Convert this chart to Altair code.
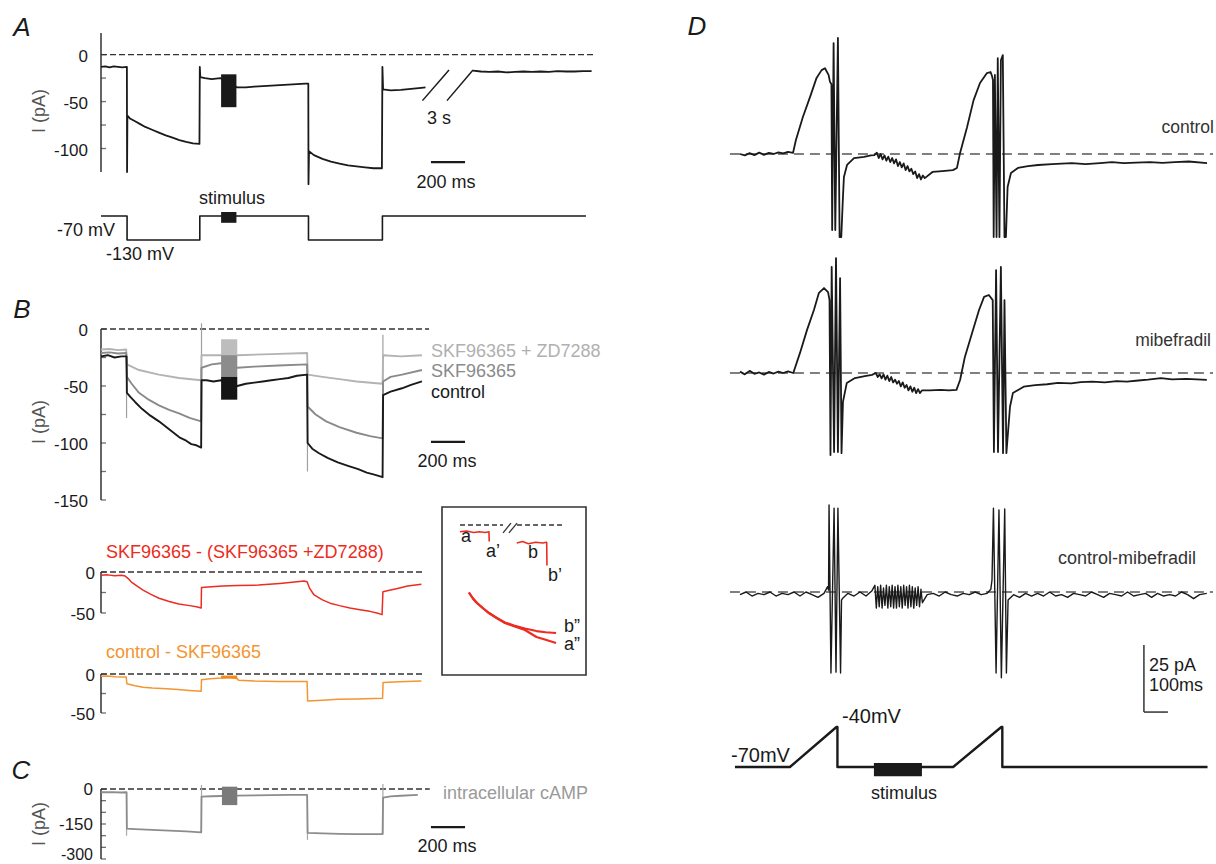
import altair as alt
import pandas as pd

FONT = "Liberation Sans"
INK = "#1a1a1a"
RED = "#ec2c22"
ORANGE = "#f39530"
LIGHT = "#b3b3b3"
MID = "#8a8a8a"

# ---------------- Panel A : current (ms, pA) ----------------
A1_T = [0, 25, 50, 75, 100, 125, 152, 153, 155, 170, 200, 230, 260, 300, 340, 380, 420, 460, 500, 540, 578,
        580, 583, 610, 650, 700, 800, 850, 900, 950, 1000, 1050, 1100, 1150, 1200, 1217,
        1218, 1221, 1250, 1300, 1350, 1400, 1450, 1500, 1550, 1600, 1649, 1652, 1656, 1700, 1760, 1820, 1880, 1905]
A1_I = [-13, -12.5, -13.5, -12.5, -13, -13.5, -13, -125, -65, -68, -71, -74, -77, -80, -83, -86, -88.5, -91, -93, -94.5, -95,
        -13, -24, -25, -26, -25, -35, -35, -34, -33.5, -33, -32.5, -32, -31.5, -31, -31,
        -138, -103, -107, -111, -114, -116, -118, -119, -120, -121, -121, -13, -37, -38, -37.5, -36.5, -35.5, -35]
A2_T = [2184, 2230, 2280, 2330, 2380, 2430, 2480, 2530, 2580, 2630, 2680, 2730, 2780, 2830, 2880]
A2_I = [-17, -18, -18.5, -18, -19, -18.5, -18, -18.5, -18, -18.5, -17.5, -18, -18, -17.5, -17.5]
A_BREAK1_T, A_BREAK1_I = [1887, 2043], [-49, -16.4]
A_BREAK2_T, A_BREAK2_I = [2031, 2184], [-49, -16.4]
A_STIM = (705, 795, -21, -56)
A_TICKS = [0, -25, -50, -75, -100]
A_LABELS = [0, -50, -100]
# protocol (ms, mV)
AP_T = [0, 153, 153, 580, 580, 1218, 1218, 1652, 1652, 2847]
AP_V = [-70, -70, -130, -130, -70, -70, -130, -130, -70, -70]
AP_STIM = (705, 795, -60, -87)

# ---------------- Panel B ----------------
BC_T = [0, 40, 80, 120, 150, 152, 175, 200, 240, 290, 340, 400, 460, 500, 530, 560, 588, 590, 620, 660, 705,
        800, 850, 900, 950, 1000, 1050, 1100, 1150, 1210, 1213, 1240, 1280, 1330, 1390, 1450, 1510, 1560, 1610, 1653,
        1656, 1700, 1767, 1820, 1884]
BC_I = [-24, -23, -25, -24, -24, -56, -60, -64, -70, -76, -81, -88, -95, -98, -101, -102, -104, -45, -45, -46, -45,
        -50, -48, -47, -46, -45, -44, -43, -41, -40, -100, -105, -109, -113, -117, -120, -123, -126, -128, -130,
        -58, -55, -52, -49, -46]
BS_T = [0, 50, 100, 148, 152, 180, 223, 280, 340, 400, 458, 520, 588, 590, 650, 705, 800, 900, 1041, 1210,
        1213, 1260, 1322, 1400, 1500, 1580, 1653, 1656, 1700, 1767, 1884]
BS_I = [-21, -20.5, -21.5, -21, -42, -48, -56, -62, -67, -71, -74, -78, -81, -34, -31, -30, -34, -33, -32, -31,
        -68, -75, -81, -86, -91, -94, -96, -46, -42, -40, -36]
BZ_T = [0, 50, 100, 148, 152, 223, 340, 458, 588, 590, 705, 800, 1000, 1210, 1213, 1300, 1400, 1500, 1653, 1656, 1760, 1884]
BZ_I = [-18, -17.5, -18.5, -18, -31, -36, -40, -43, -45, -23, -23, -23, -22, -21, -40, -42, -44, -46, -48, -23, -24, -23]
B_SPIKE_T = [150, 590, 1212, 1655]
B_SPIKE_A = [-24, -45, -40, -58]
B_SPIKE_B = [-78, 5, -125, -5]
B_STIM_T = (705, 800)
B_STIM_LEVELS = [(-9, -23, "#bdbdbd"), (-23, -42, "#8c8c8c"), (-42, -62, "#151515")]
B_TICKS = [0, -25, -50, -75, -100, -125, -150]
B_LABELS = [0, -50, -100, -150]

# difference traces
R_T = [0, 40, 80, 120, 142, 160, 177, 210, 247, 290, 341, 400, 457, 520, 560, 588,
       590, 650, 714, 800, 924, 1050, 1150, 1192, 1210, 1225, 1251, 1300, 1345, 1400, 1461, 1520, 1578, 1620, 1650,
       1655, 1700, 1741, 1800, 1881]
R_I = [-4, -3.5, -4.5, -4, -5, -8, -12, -17, -22, -27, -32, -36, -39, -41, -42.5, -44,
       -19, -18, -17, -16.5, -16, -14, -12, -11, -12, -20, -28, -34, -38, -41, -44, -46, -48, -50, -52,
       -24, -22, -20, -17, -15]
O_T = [0, 40, 80, 130, 148, 152, 200, 247, 300, 387, 450, 520, 588, 590, 640, 705, 750, 800, 807, 900, 1040, 1210,
       1213, 1300, 1391, 1500, 1653, 1656, 1750, 1881]
O_I = [-3, -2.5, -3.5, -4, -4, -12.5, -15, -17, -18, -19, -20, -21, -22, -7.5, -6, -5, -4, -6, -8, -9, -9.6, -9.6,
       -34.6, -33.5, -32.5, -32, -31, -11, -10, -9]
O_STIM = (705, 800, -2, -6)
D_TICKS = [0, -25, -50]
D_LABELS = [0, -50]

# inset (ms, pA, arbitrary offsets)
IA_T = [125, 170, 220, 260, 300, 326, 328]
IA_I = [-4.5, -4, -5, -4.5, -5, -4.5, -11]
IB_T = [519, 560, 600, 650, 700, 727, 729]
IB_I = [-12, -11, -12.5, -11.5, -12, -11.5, -27]
IA2_T = [187, 215, 243, 285, 326, 380, 437, 500, 576, 656, 720, 792]
IA2_I = [-45, -49, -52, -55.5, -58.7, -62, -65.3, -67.5, -70, -74.7, -76.5, -78.7]
IB2_T = [187, 215, 243, 285, 326, 380, 437, 500, 576, 656, 720, 792]
IB2_I = [-45, -49, -52, -55.5, -58.7, -62, -65, -67, -69, -70.7, -71.5, -72]

# ---------------- Panel C ----------------
C_T = [0, 60, 120, 148, 150, 152, 200, 300, 400, 500, 588, 590, 650, 705, 800, 900, 1000, 1100, 1210,
       1213, 1300, 1400, 1500, 1653, 1656, 1700, 1760, 1860]
C_I = [-14, -13, -15, -14, -14, -170, -172, -175, -178, -182, -186, -33, -31, -30, -28, -27, -26, -25, -25,
       -188, -190, -192, -193, -193, -37, -32, -29, -25]
C_SPIKE_T = [150, 590, 1212, 1655]
C_SPIKE_A = [-14, -186, -25, -193]
C_SPIKE_B = [-200, 17, -218, 21]
C_STIM = (710, 800, 10, -69)
C_TICKS = [0, -50, -100, -150, -200, -250, -300]
C_LABELS = [0, -150]
C_LABELS_LOW = [-300]

# ---------------- Panel D (ms, pA) ----------------
DC_T = [0, 20, 40, 60, 80, 100, 120, 140, 160, 180, 200, 221, 233, 262, 292, 319, 340, 354, 369, 375,
        381, 384, 390, 397, 408, 415, 422, 429, 433, 446, 475, 517, 545, 560,
        570, 578, 586, 594, 602, 610, 618, 626, 634, 642, 650, 658, 666, 674, 682, 690, 698, 706, 714, 722, 730, 738,
        746, 754, 762, 770,
        802, 830, 854, 887, 904, 917, 946, 973, 1000, 1029, 1044, 1050,
        1054, 1057, 1062, 1069, 1074, 1081, 1087, 1095, 1102, 1108, 1115,
        1129, 1158, 1200, 1242, 1300, 1340, 1383, 1440, 1500, 1550, 1599, 1650, 1708, 1760, 1812, 1870, 1946]
DC_I = [0, -0.5, 0.3, -0.4, 0.5, -0.3, 0.4, 0, 0.6, 0.2, 0.8, 0.4, 5.2, 13.8, 21.3, 28.4, 31.3, 32, 29.5, 26.9,
        26, -28.4, 41.4, -28.4, 43.3, -31, -31, -16, -8.6, -4.1, -1.5, -1.1, -0.5, -0.4,
        0.5, -1.5, 0, -2, -0.5, -2.5, -1, -3, -1.5, -3.5, -2, -4.5, -3, -5, -3.5, -6, -4.5, -6.5, -5.5, -7.5, -6.5, -9,
        -7.5, -9.5, -8, -9,
        -6.7, -6.5, -6.3, -6, -5.2, 0.4, 10, 20, 26.5, 30.2, 30.6, 29.1,
        27.6, -31, 29.5, -31, 35.8, -31, 35, 36.9, -31, -31, -12.3,
        -7.1, -5.2, -4.5, -4.1, -3.8, -3.6, -3.4, -3.8, -3.4, -3, -3.4, -3.2, -3, -3.3, -3, -2.8, -3.4]
DM_T = [0, 20, 40, 60, 80, 100, 120, 140, 160, 180, 200, 222, 250, 279, 308, 329, 350, 367, 373,
        377, 382, 392, 400, 408, 417, 423, 429, 445, 479, 520, 550,
        566, 574, 582, 590, 598, 606, 614, 622, 630, 638, 646, 654, 662, 670, 678, 686, 694, 702, 710, 718, 726, 734,
        742, 750, 758,
        790, 837, 870, 902, 917, 937, 967, 996, 1017, 1037, 1053,
        1058, 1067, 1075, 1087, 1096, 1102, 1110, 1125,
        1137, 1182, 1230, 1280, 1325, 1380, 1420, 1467, 1520, 1570, 1612, 1660, 1700, 1754, 1800, 1860, 1945]
DM_I = [0.5, -0.5, 0.8, -0.3, 0.2, -0.6, 0.4, -0.2, 0.5, 0, 0.6, 0, 7.5, 16, 23.5, 29.9, 31.7, 30.2, 27.2,
        -30.6, 39.6, -29.5, 42.9, -29.5, 35.4, -29.9, -10.8, -3.7, -1.9, -1.2, -0.7,
        0, -1.5, -0.5, -2, -0.5, -2.5, -1, -3, -1.5, -3.5, -2.5, -4, -3, -5, -3.5, -5.5, -4.5, -6.5, -5, -7, -5.5,
        -7.5, -6, -7.5, -6.5,
        -6.5, -6.3, -6.5, -6.3, -2.6, 6, 14.9, 23.5, 28.4, 29.1, 27.2,
        -29.5, 38.4, -29.5, 39.6, -29.9, 27.2, -29.9, -12.6,
        -7.5, -5.1, -4.5, -4.2, -3.7, -3.9, -3.4, -3.2, -3.5, -3, -3.2, -2.8, -2.5, -1.9, -2.4, -2.2, -2.6]
DX_T = [0, 25, 50, 75, 100, 125, 150, 175, 200, 225, 250, 275, 300, 325, 350,
        365, 369, 371, 379, 392, 400, 408, 419, 423, 429, 450, 475, 500, 525, 550,
        562, 568, 574, 580, 586, 592, 598, 604, 610, 616, 622, 628, 634, 640, 646, 652, 658, 664, 670, 676, 682,
        688, 694, 700, 706, 712, 718, 724, 730, 736, 742, 748, 754, 760,
        780, 805, 830, 855, 880, 905, 930, 955, 980, 1005, 1030, 1045,
        1050, 1056, 1067, 1079, 1089, 1103, 1110, 1117,
        1140, 1165, 1190, 1215, 1240, 1265, 1290, 1315, 1340, 1365, 1390, 1415, 1440, 1465, 1490, 1515, 1540,
        1565, 1590, 1615, 1640, 1665, 1690, 1715, 1740, 1765, 1790, 1815, 1840, 1865, 1890, 1915, 1945]
DX_I = [-1, 0, -1.5, -0.5, -1, 0, -1.5, -0.5, -1, 0, -1.5, 0, -1, -2, -0.5,
        2, 0.7, 32.5, -30.2, 31.3, -29.9, 31.3, -30.2, -3, -2.2, -0.5, -1.5, 0, -1.5, 0.5,
        2.5, -6, 2, -5.5, 2.5, -6, 1.5, -5, 2.5, -6, 2, -5.5, 2.5, -6, 2, -6, 2.5, -5.5, 2, -6, 2.5,
        -5, 2, -6, 2.5, -5.5, 2, -6, 1.5, -5, 2, -5.5, 1, -4,
        -1, -0.5, -1.5, 0, -1, -1.5, -0.5, -1, 0, -1, -0.5, 1,
        4.5, 31.3, -30.2, 30.6, -32, 31, -30.2, -3,
        -1, -2, -0.5, -1.5, -0.5, -1.5, 0, -1.5, -1, -2, -0.5, -1, -1.5, 0, -1, -2, -0.5,
        -1, -1.5, 0, -1.5, -1, -0.5, -2, -0.5, -1.5, -1, -1.5, 0, -1, -2.5, -1, -0.5]
DP_T = [-21, 208, 402, 406, 406, 888, 1089, 1093, 1093, 1948]
DP_V = [-70, -70, -40, -40, -70, -70, -40, -40, -70, -70]
DP_STIM = (558, 758, -67, -77)

for a, b in [(A1_T, A1_I), (A2_T, A2_I), (BC_T, BC_I), (BS_T, BS_I), (BZ_T, BZ_I), (R_T, R_I), (O_T, O_I),
             (C_T, C_I), (DC_T, DC_I), (DM_T, DM_I), (DX_T, DX_I), (IA2_T, IA2_I), (IB2_T, IB2_I)]:
    assert len(a) == len(b), (len(a), len(b))

# ---------------- text ----------------
LEFT_TEXT = [
    ("-130 mV", 106, 255, 18, INK),
    ("SKF96365 + ZD7288", 431, 352, 18, "#b0b0b0"),
    ("SKF96365", 431, 372, 18, "#8a8a8a"),
    ("control", 431, 393, 18, INK),
    ("SKF96365 - (SKF96365 +ZD7288)", 106, 553, 18, RED),
    ("control - SKF96365", 106, 653, 18, ORANGE),
    ("intracellular cAMP", 443, 794, 18, "#9a9a9a"),
    ("-40mV", 842, 717, 20, INK),
    ("-70mV", 731, 756, 20, INK),
    ("25 pA", 1149, 666, 18, INK),
    ("100ms", 1149, 686, 18, INK),
    ("a", 461, 537, 18, INK),
    ("a\u2019", 486, 552, 18, INK),
    ("b", 528, 553, 18, INK),
    ("b\u2019", 548, 576, 18, INK),
    ("b\u201d", 564, 627, 18, INK),
    ("a\u201d", 564, 645, 18, INK),
]
RIGHT_TEXT = [
    ("-70 mV", 115, 231, 18, INK),
    ("control", 1214, 128, 17.5, "#333333"),
    ("mibefradil", 1211, 341, 17.5, "#333333"),
    ("control-mibefradil", 1196, 559, 18, "#333333"),
]
CENTER_TEXT = [
    ("stimulus", 232, 199, 18, INK),
    ("3 s", 439, 119, 18, INK),
    ("200 ms", 446, 183, 18, INK),
    ("200 ms", 447, 462, 18, INK),
    ("200 ms", 447, 847, 18, INK),
    ("stimulus", 904, 794, 18, INK),
]
ROT_TEXT = [("I (pA)", 40, 111, 18, "#555555"), ("I (pA)", 40, 422, 18, "#555555"), ("I (pA)", 40, 824, 18, "#555555")]
LETTERS = [("A", 22, 28, 26, INK), ("B", 22, 310, 26, INK), ("C", 21, 771, 26, INK), ("D", 697, 27, 26, INK)]


# ---------------- helpers ----------------
def sc(domain, rng):
    return alt.Scale(domain=domain, range=rng, nice=False, zero=False)


PX = sc([0, 1216], [0, 1216])
PY = sc([0, 864], [0, 864])


def enc_xy(xs, ys, xf="t", yf="v"):
    return dict(x=alt.X(f"{xf}:Q", scale=xs, axis=None), y=alt.Y(f"{yf}:Q", scale=ys, axis=None))


def line(t, v, xs, ys, color=INK, w=1.5, dash=None, op=1.0):
    df = pd.DataFrame({"t": t, "v": v, "i": list(range(len(t)))})
    kw = dict(color=color, strokeWidth=w, opacity=op, strokeJoin="round")
    if dash:
        kw["strokeDash"] = dash
    return alt.Chart(df).mark_line(**kw).encode(order="i:Q", **enc_xy(xs, ys))


def hrule(t1, t2, v, xs, ys, color=INK, w=1.5, dash=None):
    df = pd.DataFrame({"t": [t1], "t2": [t2], "v": [v]})
    kw = dict(color=color, strokeWidth=w)
    if dash:
        kw["strokeDash"] = dash
    return alt.Chart(df).mark_rule(**kw).encode(x2="t2:Q", **enc_xy(xs, ys))


def vrules(ts, a, b, xs, ys, color=INK, w=1.5):
    df = pd.DataFrame({"t": ts, "v": a, "v2": b})
    return alt.Chart(df).mark_rule(color=color, strokeWidth=w).encode(y2="v2:Q", **enc_xy(xs, ys))


def rect(t1, t2, v1, v2, xs, ys, color=INK, fill=True, w=1.5):
    df = pd.DataFrame({"t": [t1], "t2": [t2], "v": [v1], "v2": [v2]})
    if fill:
        m = alt.Chart(df).mark_rect(color=color)
    else:
        m = alt.Chart(df).mark_rect(fill=None, stroke=color, strokeWidth=w)
    return m.encode(x2="t2:Q", y2="v2:Q", **enc_xy(xs, ys))


def tick_labels(xs, ys, labels, dx, dy=2, size=17):
    ldf = pd.DataFrame({"t": [0] * len(labels), "v": labels, "s": [str(x) for x in labels]})
    return alt.Chart(ldf).mark_text(align="right", baseline="middle", dx=dx, dy=dy, font=FONT,
                                    fontSize=size, color=INK).encode(text="s:N", **enc_xy(xs, ys))


def axis(xs, ys, v_lo, v_hi, ticks, labels, dx, size=17, dy=2):
    out = [vrules([0], [v_lo], [v_hi], xs, ys, color="#333333", w=1.5)]
    tdf = pd.DataFrame({"t": [0] * len(ticks), "v": ticks})
    out.append(alt.Chart(tdf).mark_tick(orient="horizontal", size=5, thickness=1.3, color="#333333",
                                        xOffset=2.5).encode(**enc_xy(xs, ys)))
    out.append(tick_labels(xs, ys, labels, dx, dy, size))
    return out


def texts(rows, align="left", angle=0, style="normal"):
    df = pd.DataFrame(rows, columns=["text", "x", "y", "size", "color"])
    return alt.Chart(df).mark_text(align=align, baseline="middle", angle=angle, font=FONT,
                                   fontStyle=style).encode(
        x=alt.X("x:Q", scale=PX, axis=None), y=alt.Y("y:Q", scale=PY, axis=None),
        text="text:N", size=alt.Size("size:Q", scale=None, legend=None),
        color=alt.Color("color:N", scale=None, legend=None))


DASH = [6, 3]
DDASH = [10, 6]

# ---------------- panel A ----------------
XT = sc([0, 2900], [101, 595])
YA = sc([-125, 23], [172, 33])
YAV = sc([-130, -70], [240, 216])
panelA = alt.layer(
    hrule(0, 2900, 0, XT, YA, color="#333333", w=1.3, dash=DASH),
    *axis(XT, YA, -125, 23, A_TICKS, A_LABELS, -13),
    line(A1_T, A1_I, XT, YA, w=1.8),
    line(A2_T, A2_I, XT, YA, w=1.8),
    line(A_BREAK1_T, A_BREAK1_I, XT, YA, w=1.5),
    line(A_BREAK2_T, A_BREAK2_I, XT, YA, w=1.5),
    rect(*A_STIM, XT, YA, color=INK),
    hrule(1937, 2137, -114.5, XT, YA, w=2.2),
)
panelAV = alt.layer(
    line(AP_T, AP_V, XT, YAV, w=1.6),
    rect(*AP_STIM, XT, YAV, color=INK),
)

# ---------------- panel B ----------------
YB = sc([-150, 0], [500, 329])
panelB = alt.layer(
    hrule(0, 1926, 0, XT, YB, color="#333333", w=1.3, dash=DASH),
    *axis(XT, YB, -150, 0, B_TICKS, B_LABELS, -13),
    vrules(B_SPIKE_T, B_SPIKE_A, B_SPIKE_B, XT, YB, color="#a0a0a0", w=1.2),
    line(BZ_T, BZ_I, XT, YB, color=LIGHT, w=1.9),
    line(BS_T, BS_I, XT, YB, color=MID, w=1.9),
    line(BC_T, BC_I, XT, YB, color=INK, w=1.9),
    *[rect(B_STIM_T[0], B_STIM_T[1], lo, hi, XT, YB, color=c) for lo, hi, c in B_STIM_LEVELS],
    hrule(1937, 2137, -99, XT, YB, w=2.2),
)
YR = sc([-50, 0], [613, 572])
panelR = alt.layer(
    hrule(0, 1902, 0, XT, YR, color="#333333", w=1.3, dash=DASH),
    *axis(XT, YR, -50, 0, D_TICKS, D_LABELS, -6),
    line(R_T, R_I, XT, YR, color=RED, w=1.5),
)
YO = sc([-50, 0], [713, 674])
panelO = alt.layer(
    hrule(0, 1902, 0, XT, YO, color="#333333", w=1.3, dash=DASH),
    *axis(XT, YO, -50, 0, D_TICKS, D_LABELS, -6),
    line(O_T, O_I, XT, YO, color=ORANGE, w=1.5),
    rect(*O_STIM, XT, YO, color="#f08a1c"),
)
XI = sc([0, 1000], [442, 586])
YI = sc([-100, 12], [675, 507])
panelI = alt.layer(
    rect(0, 1000, -100, 12, XI, YI, color="#333333", fill=False, w=1.6),
    hrule(125, 424, 0, XI, YI, color="#333333", w=1.3, dash=[5, 3]),
    hrule(521, 833, 0, XI, YI, color="#333333", w=1.3, dash=[5, 3]),
    line([424, 479], [-5.3, 1.3], XI, YI, color="#333333", w=1.3),
    line([465, 521], [-5.3, 1.3], XI, YI, color="#333333", w=1.3),
    line(IA_T, IA_I, XI, YI, color=RED, w=1.6),
    line(IB_T, IB_I, XI, YI, color=RED, w=1.6),
    line(IA2_T, IA2_I, XI, YI, color=RED, w=2.2),
    line(IB2_T, IB2_I, XI, YI, color=RED, w=2.2),
)

# ---------------- panel C ----------------
YC = sc([-300, 0], [859, 789])
panelC = alt.layer(
    hrule(0, 1930, 0, XT, YC, color="#333333", w=1.3, dash=DASH),
    *axis(XT, YC, -300, 0, C_TICKS, C_LABELS, -8, dy=1),
    tick_labels(XT, YC, C_LABELS_LOW, -8, dy=-4, size=16),
    vrules(C_SPIKE_T, C_SPIKE_A, C_SPIKE_B, XT, YC, color="#a8a8a8", w=1.2),
    line(C_T, C_I, XT, YC, color="#8c8c8c", w=1.8),
    rect(*C_STIM, XT, YC, color="#7a7a7a"),
    hrule(1937, 2137, -163, XT, YC, w=2.2),
)

# ---------------- panel D ----------------
XD = sc([0, 1950], [740, 1208])
YD1 = sc([-35, 45], [247.8, 33.4])
YD2 = sc([-35, 45], [466.8, 252.4])
YD3 = sc([-35, 45], [685.8, 471.4])
YDV = sc([-70, -40], [767, 727])
panelD1 = alt.layer(
    hrule(-42, 1971, 0, XD, YD1, color="#555555", w=1.6, dash=DDASH),
    line(DC_T, DC_I, XD, YD1, w=1.8),
)
panelD2 = alt.layer(
    hrule(-42, 1971, 0, XD, YD2, color="#555555", w=1.6, dash=DDASH),
    line(DM_T, DM_I, XD, YD2, w=1.8),
)
panelD3 = alt.layer(
    hrule(-42, 1971, 0, XD, YD3, color="#555555", w=1.6, dash=DDASH),
    line(DX_T, DX_I, XD, YD3, w=1.4),
    vrules([1683], [-19.8], [-44.8], XD, YD3, color="#333333", w=1.5),
    hrule(1683, 1783, -44.8, XD, YD3, color="#333333", w=1.5),
)
panelDV = alt.layer(
    line(DP_T, DP_V, XD, YDV, w=2.4),
    rect(*DP_STIM, XD, YDV, color=INK),
)

text_layers = [
    texts(LEFT_TEXT, "left"),
    texts(RIGHT_TEXT, "right"),
    texts(CENTER_TEXT, "center"),
    texts(ROT_TEXT, "center", angle=270),
    texts(LETTERS, "center", style="italic"),
]

chart = alt.layer(
    panelA, panelAV, panelB, panelR, panelO, panelI, panelC,
    panelD1, panelD2, panelD3, panelDV, *text_layers
).resolve_scale(x="independent", y="independent").properties(
    width=1216, height=864, padding=0, autosize=alt.AutoSizeParams(type="none"), background="white"
).configure_view(stroke=None)

chart.save("out.html", embed_options={"renderer": "svg", "actions": False})
